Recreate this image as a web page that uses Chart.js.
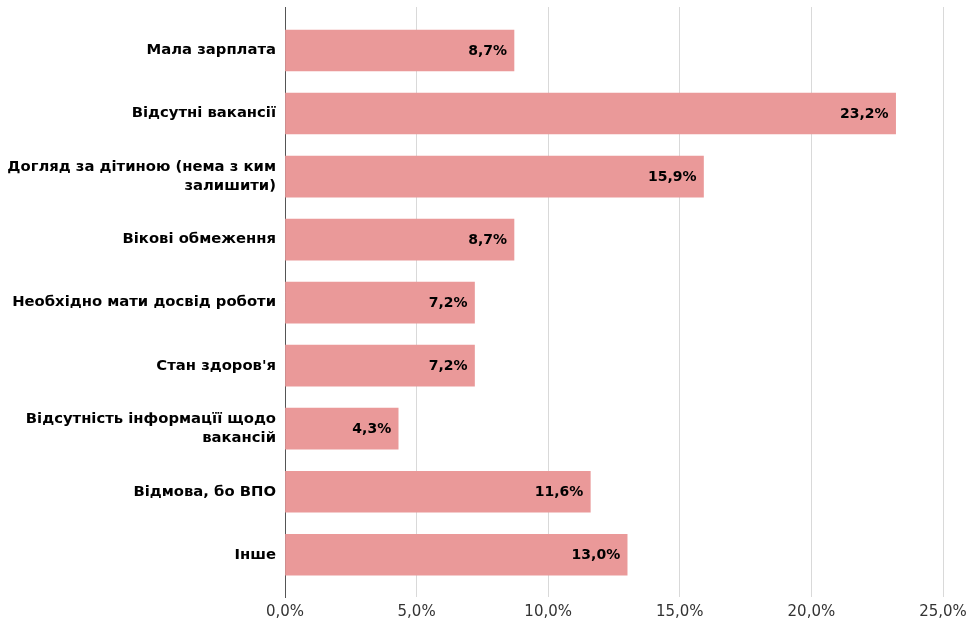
<!DOCTYPE html>
<html>
<head>
<meta charset="utf-8">
<script src="https://cdn.jsdelivr.net/npm/chart.js"></script>
<style>
  body { margin: 0; background: #fff; }
</style>
</head>
<body>
<canvas id="chart" width="969" height="622"></canvas>
<script>
// categories (multi-line ones are split into arrays)
const labels = [
    'Мала зарплата',
    'Відсутні вакансії',
    ['Догляд за дітиною (нема з ким', 'залишити)'],
    'Вікові обмеження',
    'Необхідно мати досвід роботи',
    "Стан здоров'я",
    ['Відсутність інформацїї щодо', 'вакансій'],
    'Відмова, бо ВПО',
    'Інше'
];
const values = [8.7, 23.2, 15.9, 8.7, 7.2, 7.2, 4.3, 11.6, 13.0];
const xTicks = [0, 5, 10, 15, 20, 25];

const FONT = '"DejaVu Sans", "Liberation Sans", Arial, sans-serif';
const fmt = v => v.toFixed(1).replace('.', ',') + '%';

// value labels drawn at the end of every bar
const valueLabels = {
    id: 'valueLabels',
    afterDatasetsDraw(chart) {
        const ctx = chart.ctx;
        ctx.save();
        ctx.font = 'bold 14px ' + FONT;
        ctx.fillStyle = '#000';
        ctx.textAlign = 'right';
        ctx.textBaseline = 'middle';
        chart.getDatasetMeta(0).data.forEach((bar, i) => {
            ctx.fillText(fmt(values[i]), bar.x - 7, bar.y + 1);
        });
        ctx.restore();
    }
};

new Chart(document.getElementById('chart').getContext('2d'), {
    type: 'bar',
    data: {
        datasets: [{
            data: values.map((v, i) => ({ x: v, y: i })),
            backgroundColor: '#ea9999',
            borderWidth: 0,
            barThickness: 41
        }]
    },
    options: {
        indexAxis: 'y',
        responsive: false,
        animation: false,
        layout: { padding: { top: 7, right: 26, left: 0, bottom: 0 } },
        plugins: { legend: { display: false }, tooltip: { enabled: false } },
        scales: {
            x: {
                type: 'linear',
                min: 0,
                max: 25,
                afterBuildTicks: s => { s.ticks = xTicks.map(v => ({ value: v })); },
                ticks: {
                    callback: v => fmt(v),
                    color: '#333',
                    font: { family: FONT, size: 15 },
                    padding: 6,
                    maxRotation: 0
                },
                grid: { color: '#d9d9d9', drawTicks: false },
                border: { display: false },
                afterFit: s => { s.height = 25; s.paddingLeft = 0; s.paddingRight = 0; }
            },
            y: {
                type: 'linear',
                reverse: true,
                offset: false,
                min: -0.69,
                max: 8.67,
                ticks: {
                    stepSize: 1,
                    autoSkip: false,
                    callback: v => (Number.isInteger(v) && labels[v] !== undefined) ? labels[v] : '',
                    color: '#000',
                    font: { family: FONT, size: 14.8, weight: 'bold', lineHeight: 1.28 },
                    padding: 9
                },
                grid: { display: false, drawTicks: false, offset: false },
                border: { display: true, color: '#555', width: 1 },
                afterFit: s => { s.width = 285; s.paddingTop = 0; s.paddingBottom = 0; }
            }
        }
    },
    plugins: [valueLabels]
});
</script>
</body>
</html>
